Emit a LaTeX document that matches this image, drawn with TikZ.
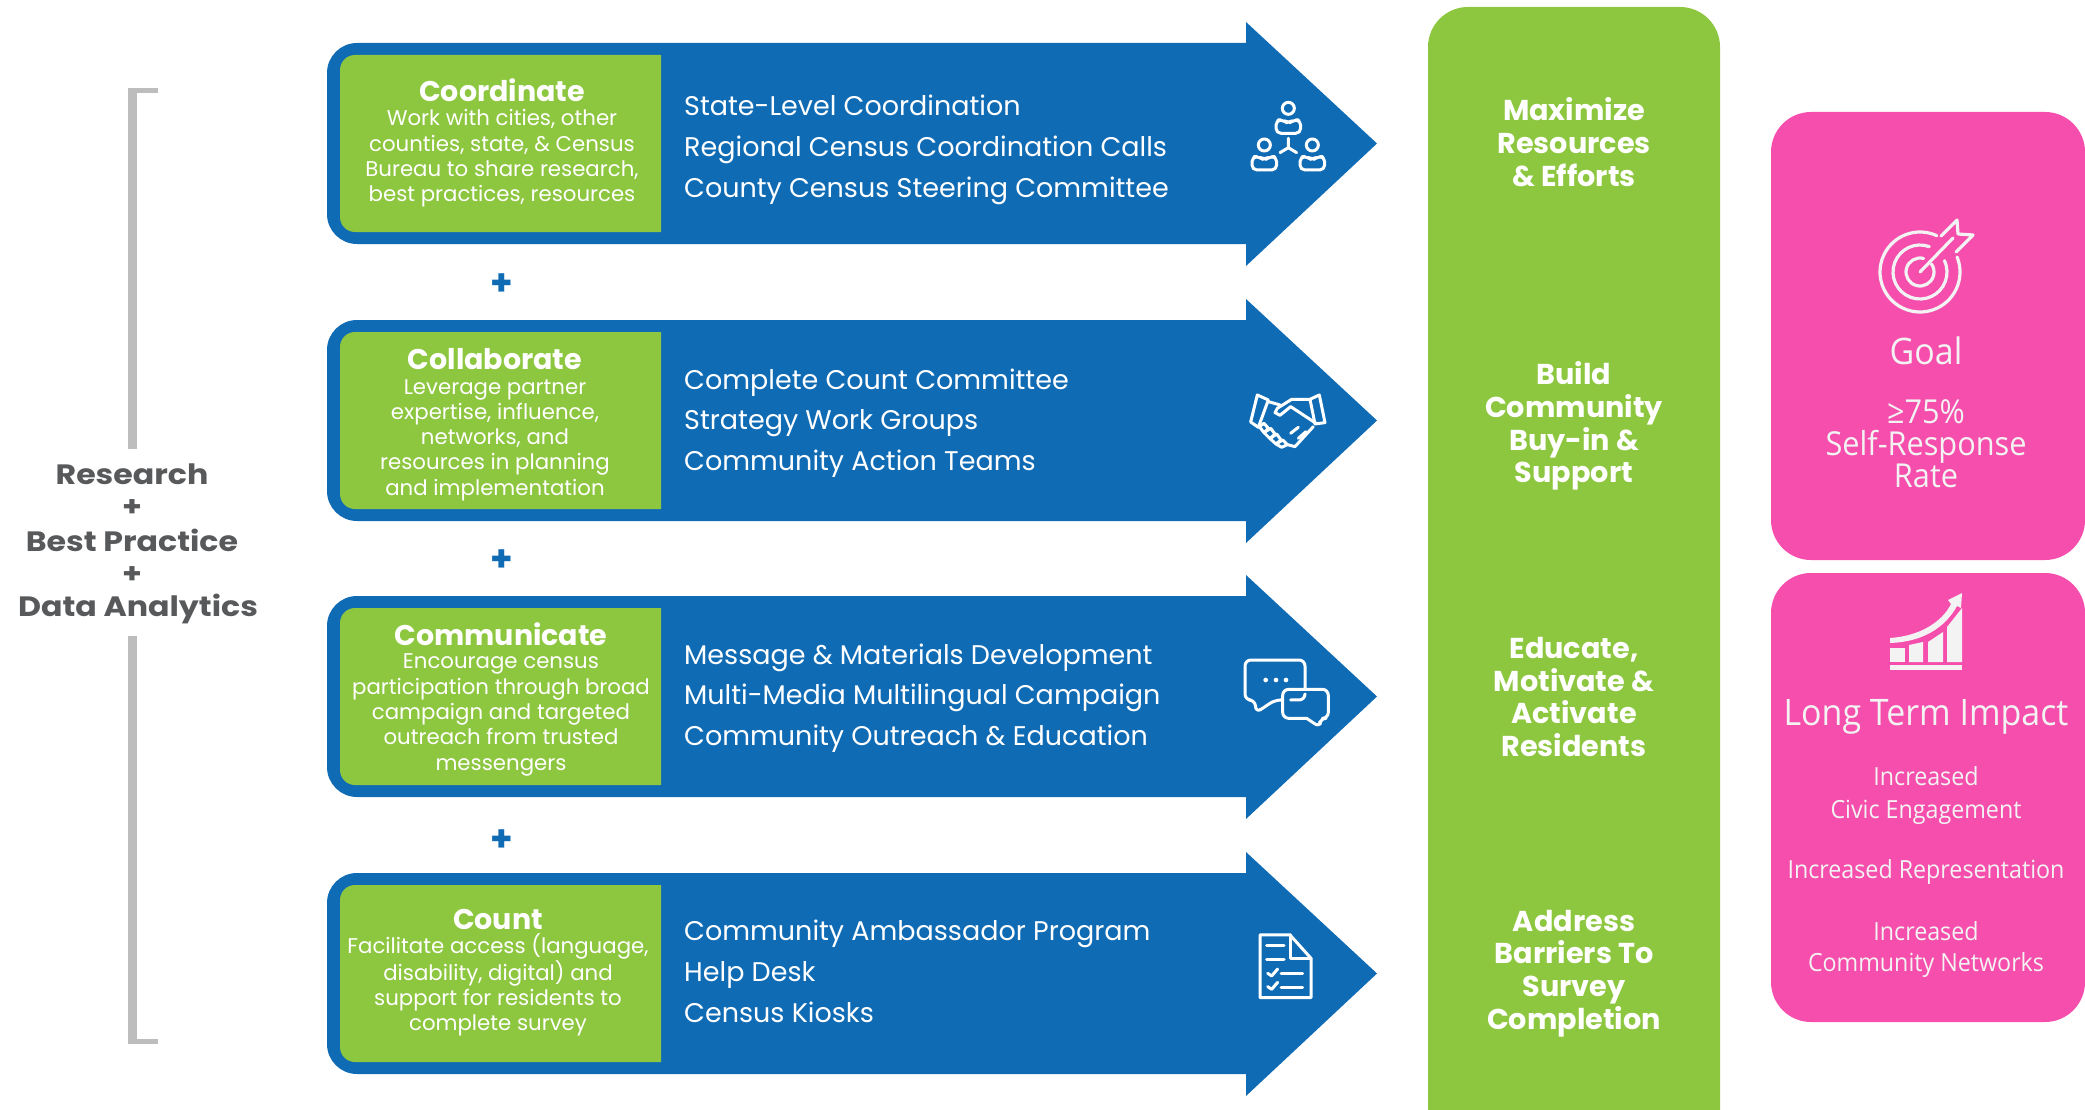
\documentclass[tikz,border=0pt]{standalone}
\usepackage{fontspec}
\setmainfont{Poppins}
\newfontfamily\pinkfont[FakeStretch=0.93]{Open Sans}
\newfontfamily\sidefont[FakeStretch=1.13]{Poppins}
\usetikzlibrary{positioning}

\definecolor{bannerblue}{HTML}{106BB5}
\definecolor{leafgreen}{HTML}{8DC63F}
\definecolor{goalpink}{HTML}{F54EAC}
\definecolor{bracketgrey}{HTML}{BDBDBD}
\definecolor{labelgrey}{HTML}{58595B}
\definecolor{softwhite}{HTML}{F3F3F3}

\tikzset{
	titletext/.style={text=white,align=center,inner sep=0pt,font=\fontsize{28.5}{29}\selectfont\bfseries},
	desctext/.style={text=white,align=center,inner sep=0pt,font=\fontsize{21.3}{25.3}\selectfont},
	listtext/.style={text=white,align=left,anchor=west,inner sep=0pt,font=\fontsize{27}{40.7}\selectfont},
	outcometext/.style={text=white,align=center,inner sep=0pt,font=\fontsize{28.7}{32.8}\selectfont\bfseries},
	sidetext/.style={text=labelgrey,inner sep=0pt,font=\sidefont\fontsize{28}{28}\selectfont\bfseries},
	plustext/.style={text=bannerblue,inner sep=0pt,font=\fontsize{36}{36}\selectfont\bfseries},
	pinktext/.style={text=softwhite,align=center,inner sep=0pt},
	iconline/.style={draw=white,line width=3pt,line join=round,line cap=round},
	pinkicon/.style={draw=softwhite,line width=3.2pt,line cap=round,line join=round}
}

\begin{document}
\begin{tikzpicture}[x=1pt,y=-1pt]
	\useasboundingbox (0,0) rectangle (2085,1110);
	\clip (0,0) rectangle (2085,1110);

	%bracket on the left
	\draw[bracketgrey,line width=9pt] (132.5,88)--(132.5,449);
	\draw[bracketgrey,line width=5pt] (128,90.5)--(158,90.5);
	\draw[bracketgrey,line width=9pt] (132.5,636)--(132.5,1044);
	\draw[bracketgrey,line width=5pt] (128,1041.5)--(158,1041.5);
	\node[sidetext] (research) at (132,474) {Research};
	\node[sidetext] (plusone) at (132,508) {+};
	\node[sidetext] (bestpractice) at (132,540) {Best Practice};
	\node[sidetext] (plustwo) at (132,575) {+};
	\node[sidetext] (analytics) at (138,609) {Data Analytics};

	%blue arrows and green boxes
	\foreach \t in {43,320,596,873}{
		\fill[bannerblue] (1246,\t) [rounded corners=30pt] -- (327,\t) -- (327,\t+201) [sharp corners] -- (1246,\t+201) -- (1246,\t+223) -- (1377,\t+100.5) -- (1246,\t-21) -- cycle;
		\fill[leafgreen] (661,\t+12) [rounded corners=15pt] -- (340,\t+12) -- (340,\t+189) [sharp corners] -- (661,\t+189) -- cycle;
	}

	%green box texts
	\node[titletext] (coordinate) at (502,90) {Coordinate};
	\node[desctext] (coordinatedesc) at (502,158.5) {Work with cities, other\\counties, state, \& Census\\Bureau to share research,\\best practices, resources};
	\node[titletext] (collaborate) at (495,359) {Collaborate};
	\node[desctext] (collaboratedesc) at (495,440) {Leverage partner\\expertise, influence,\\networks, and\\resources in planning\\and implementation};
	\node[titletext] (communicate) at (501,634) {Communicate};
	\node[desctext] (communicatedesc) at (501,715) {Encourage census\\participation through broad\\campaign and targeted\\outreach from trusted\\messengers};
	\node[titletext] (count) at (498,919) {Count};
	\node[desctext] (countdesc) at (498,985) {Facilitate access (language,\\disability, digital) and\\support for residents to\\complete survey};

	%lists in the arrows
	\node[listtext] (coordinatelist) at (684,150) {State-Level Coordination\\Regional Census Coordination Calls\\County Census Steering Committee};
	\node[listtext] (collaboratelist) at (684,423) {Complete Count Committee\\Strategy Work Groups\\Community Action Teams};
	\node[listtext] (communicatelist) at (684,698) {Message \& Materials Development\\Multi-Media Multilingual Campaign\\Community Outreach \& Education};
	\node[listtext] (countlist) at (684,971.5) {Community Ambassador Program\\Help Desk\\Census Kiosks};

	%plus signs
	\node[plustext] (plusa) at (502,285) {+};
	\node[plustext] (plusb) at (502,561) {+};
	\node[plustext] (plusc) at (502,841) {+};

	%people icon
	\begin{scope}[shift={(1200,80)},x=0.3333pt,y=-0.3333pt]
		\foreach \px/\py in {265/85,193/195,337/195}{
			\draw[iconline] (\px,\py) circle[radius=18];
			\draw[iconline,rounded corners=5pt] (\px-37,\py+35) -- (\px-16,\py+35) -- (\px,\py+46) -- (\px+16,\py+35) -- (\px+37,\py+35) -- (\px+37,\py+75) -- (\px-37,\py+75) -- cycle;
		}
		\draw[iconline] (265,175)--(265,203)--(240,218);
		\draw[iconline] (265,203)--(290,218);
	\end{scope}

	%handshake icon
	\begin{scope}[shift={(1200,80)},x=0.3333pt,y=-0.3333pt]
		\draw[iconline] (172,945)--(205,960)--(175,1042)--(152,1026)--cycle;
		\draw[iconline] (358,945)--(375,1028)--(345,1032)--(330,958)--cycle;
		\draw[iconline] (205,965)--(240,975);
		\draw[iconline] (330,958)--(275,958)--(232,985)--(225,998)--(240,1006)--(272,980)--(348,1030);
		\draw[iconline] (178,1040)--(192,1030)--(205,1045)--(192,1058)--cycle;
		\draw[iconline] (192,1058)--(212,1045)--(225,1062)--(210,1076)--cycle;
		\draw[iconline] (210,1076)--(230,1062)--(243,1080)--(228,1092)--cycle;
		\draw[iconline] (228,1092)--(248,1080)--(262,1094)--(245,1102)--cycle;
		\draw[iconline] (262,1094)--(285,1100)--(340,1040);
		\draw[iconline] (272,1060)--(295,1042);
		\draw[iconline] (295,1075)--(318,1055);
	\end{scope}

	%speech icon
	\begin{scope}[shift={(1200,620)},x=0.3333pt,y=-0.3333pt]
		\draw[iconline,rounded corners=6pt] (240,240)--(225,240)--(168,278)--(165,240)--(135,240)--(135,120)--(315,120)--(315,208);
		\draw[iconline,rounded corners=6pt] (272,240)--(315,240)--(315,222);
		\draw[iconline,rounded corners=6pt] (320,295)--(360,322)--(360,295)--(385,295)--(385,208)--(248,208)--(248,295)--(320,295);
		\foreach \dx in {197,228,258}{
			\fill[white] (\dx,180) circle[radius=7];
		}
	\end{scope}

	%document icon
	\begin{scope}[shift={(1200,620)},x=0.3333pt,y=-0.3333pt]
		\draw[iconline] (180,945)--(270,945)--(333,1015)--(333,1133)--(180,1133)--cycle;
		\draw[iconline] (270,945)--(270,1015)--(333,1015);
		\draw[iconline] (200,978)--(252,978);
		\draw[iconline] (200,1020)--(252,1020);
		\draw[iconline] (203,1060)--(215,1068)--(233,1047);
		\draw[iconline] (243,1062)--(308,1062);
		\draw[iconline] (203,1100)--(215,1108)--(233,1087);
		\draw[iconline] (243,1104)--(308,1104);
	\end{scope}

	%green bar
	\fill[leafgreen,rounded corners=40pt] (1428,7) rectangle (1720,1170);
	\node[outcometext] (maximize) at (1574,142) {Maximize\\Resources\\\& Efforts};
	\node[outcometext] (buyin) at (1574,426) {Build\\Community\\Buy-in \&\\Support};
	\node[outcometext] (educate) at (1574,697) {Educate,\\Motivate \&\\Activate\\Residents};
	\node[outcometext] (barriers) at (1574,973.5) {Address\\Barriers To\\Survey\\Completion};

	%pink boxes
	\fill[goalpink,rounded corners=40pt] (1771,112) rectangle (2085,560);
	\fill[goalpink,rounded corners=40pt] (1771,573) rectangle (2085,1022);

	%target icon
	\foreach \r/\a/\b in {40/-65/-382,27/-70/-385,14/-75/-395}{
		\draw[pinkicon] (1920,272) ++(\a:\r) arc[start angle=\a,end angle=\b,radius=\r];
	}
	\draw[pinkicon] (1920,272)--(1953,238);
	\draw[pinkicon] (1941,236)--(1957,220)--(1958,234)--(1973,235)--(1956,252);

	%chart icon
	\fill[softwhite] (1890,665) rectangle (1962,670);
	\fill[softwhite] (1890,648)--(1905,648)--(1905,662)--(1890,662)--cycle;
	\fill[softwhite] (1909,645)--(1923,642)--(1923,662)--(1909,662)--cycle;
	\fill[softwhite] (1928,642)--(1943,632)--(1943,662)--(1928,662)--cycle;
	\fill[softwhite] (1947,627)--(1962,608)--(1962,662)--(1947,662)--cycle;
	\fill[softwhite] (1890,638) .. controls (1920,636) and (1942,622) .. (1951,604) -- (1948,600) -- (1962,593) -- (1961,608) -- (1957,606) .. controls (1945,628) and (1922,642) .. (1890,643) -- cycle;

	%pink box texts
	\node[pinktext,font=\pinkfont\fontsize{36.5}{36}\selectfont] (goal) at (1926,351) {Goal};
	\node[pinktext,font=\pinkfont\fontsize{33}{32}\selectfont] (rate) at (1926,444) {≥75\%\\Self-Response\\Rate};
	\node[pinktext,font=\pinkfont\fontsize{36.5}{36}\selectfont] (impact) at (1926,717) {Long Term Impact};
	\node[pinktext,font=\pinkfont\fontsize{25}{33}\selectfont] (civic) at (1926,795.5) {Increased\\Civic Engagement};
	\node[pinktext,font=\pinkfont\fontsize{25}{33}\selectfont] (representation) at (1926,871.5) {Increased Representation};
	\node[pinktext,font=\pinkfont\fontsize{25}{31}\selectfont] (networks) at (1926,949.5) {Increased\\Community Networks};
\end{tikzpicture}
\end{document}
